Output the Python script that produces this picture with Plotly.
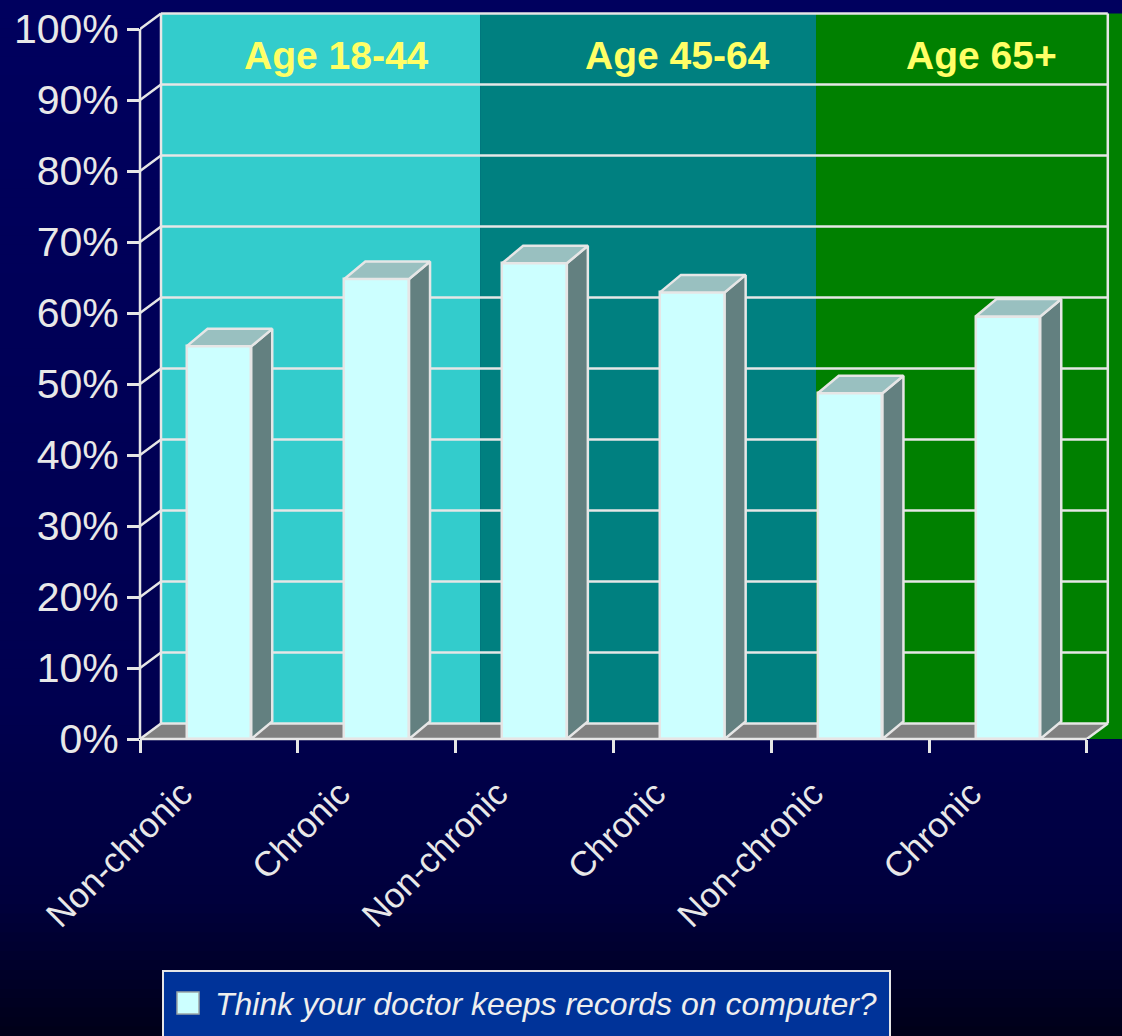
import plotly.graph_objects as go

# ---------------- data ----------------
categories = ["Non-chronic", "Chronic", "Non-chronic", "Chronic", "Non-chronic", "Chronic"]
age_groups = ["Age 18-44", "Age 45-64", "Age 65+"]
values = [55.3, 64.8, 67.0, 62.9, 48.7, 59.5]
series_name = "Think your doctor keeps records on computer?"
y_ticks = [0, 10, 20, 30, 40, 50, 60, 70, 80, 90, 100]
y_tick_labels = [f"{v}%" for v in y_ticks]

# ---------------- geometry / style ----------------
W, H = 1122, 1036
L, R, T, B = 140, 0, 12, 297
plot_w, plot_h = W - L - R, H - T - B
cat_px = 157.8            # pixels per category
px_per_pct = 7.1          # pixels per percent
x_min = -0.5
x_max = x_min + plot_w / cat_px
y_max = plot_h / px_per_pct

wall_dx = 21 / cat_px
wall_dy = 15.5 / px_per_pct
bar_dx = 21 / cat_px
bar_dy = 17.5 / px_per_pct
bar_w = 0.41
n = len(categories)
x_pos = list(range(n))
x_last = n - 0.5

band_colors = ["#33CCCC", "#008080", "#008000"]
band_edges = [x_min + wall_dx, 1.655, 3.784, x_max]
label_x = [0.748, 2.909, 4.83]
label_y = 96.3

front_col = "#CCFFFF"
side_col = "#638080"
top_col = "#99C0C0"
floor_col = "#808080"
edge_col = "#E6E6E6"
text_col = "#E8E8E8"
legend_bg = "#003399"
font_fam = "Liberation Sans, Arial, Helvetica, sans-serif"


def px_x(px):
    return (px - L) / plot_w


def px_y(py):
    return (H - B - py) / plot_h


fig = go.Figure()

# ---------------- background gradient (paper) ----------------
stops = [(0, (0, 0, 94)), (700, (0, 0, 80)), (900, (0, 0, 60)), (1036, (0, 0, 24))]


def grad(py):
    for (a, ca), (b, cb) in zip(stops[:-1], stops[1:]):
        if a <= py <= b:
            t = (py - a) / (b - a)
            return "rgb(%d,%d,%d)" % tuple(round(ca[k] + (cb[k] - ca[k]) * t) for k in range(3))
    return "rgb(0,0,24)"


shapes = []
N = 110
for i in range(N):
    py0 = H * i / N
    py1 = H * (i + 1) / N + 1
    shapes.append(dict(type="rect", xref="paper", yref="paper", layer="below",
                       x0=px_x(0), x1=px_x(W), y0=px_y(py1), y1=px_y(py0),
                       fillcolor=grad((py0 + py1) / 2), line=dict(width=0)))

# ---------------- coloured age bands ----------------
for c, x0, x1 in zip(band_colors, band_edges[:-1], band_edges[1:]):
    shapes.append(dict(type="rect", xref="x", yref="y", layer="below",
                       x0=x0, x1=x1, y0=0, y1=100 + wall_dy,
                       fillcolor=c, line=dict(width=0)))

# ---------------- floor ----------------
shapes.append(dict(type="path", xref="x", yref="y", layer="below",
                   path=f"M{x_min},0 L{x_last},0 L{x_last + wall_dx},{wall_dy} L{x_min + wall_dx},{wall_dy} Z",
                   fillcolor=floor_col, line=dict(width=0)))

# ---------------- back wall gridlines + left wall diagonals ----------------
for v in y_ticks:
    shapes.append(dict(type="line", xref="x", yref="y", layer="below",
                       x0=x_min + wall_dx, x1=x_last + wall_dx, y0=v + wall_dy, y1=v + wall_dy,
                       line=dict(color=edge_col, width=2.5)))
    shapes.append(dict(type="line", xref="x", yref="y", layer="below",
                       x0=x_min, x1=x_min + wall_dx, y0=v, y1=v + wall_dy,
                       line=dict(color=edge_col, width=2.5)))
# wall edges
for xx in (x_min + wall_dx, x_last + wall_dx):
    shapes.append(dict(type="line", xref="x", yref="y", layer="below",
                       x0=xx, x1=xx, y0=wall_dy, y1=100 + wall_dy,
                       line=dict(color=edge_col, width=2.5)))
shapes.append(dict(type="line", xref="x", yref="y", layer="below",
                   x0=x_last, x1=x_last + wall_dx, y0=0, y1=wall_dy,
                   line=dict(color=edge_col, width=2.5)))
# front axis lines (paper coords so they are not clipped)
shapes.append(dict(type="line", xref="paper", yref="paper", layer="above",
                   x0=0, x1=0, y0=0, y1=100 / y_max, line=dict(color=edge_col, width=2.5)))
shapes.append(dict(type="line", xref="paper", yref="paper", layer="above",
                   x0=0, x1=(x_last - x_min) / (x_max - x_min), y0=0, y1=0,
                   line=dict(color=edge_col, width=2.5)))

# ---------------- legend box (drawn like the original, running off the bottom) ----------------
shapes.append(dict(type="rect", xref="paper", yref="paper", layer="above",
                   x0=px_x(163), x1=px_x(890), y0=px_y(1050), y1=px_y(971),
                   fillcolor=legend_bg, line=dict(color=edge_col, width=2)))
shapes.append(dict(type="rect", xref="paper", yref="paper", layer="above",
                   x0=px_x(177), x1=px_x(199), y0=px_y(1014), y1=px_y(992),
                   fillcolor=front_col, line=dict(color="#9AA6A6", width=1.5)))

# ---------------- 3D bar faces ----------------
sx, sy, tx, ty = [], [], [], []
for xc, v in zip(x_pos, values):
    x0, x1 = xc - bar_w / 2, xc + bar_w / 2
    sx += [x1, x1 + bar_dx, x1 + bar_dx, x1, x1, None]
    sy += [0, bar_dy, v + bar_dy, v, 0, None]
    tx += [x0, x1, x1 + bar_dx, x0 + bar_dx, x0, None]
    ty += [v, v, v + bar_dy, v + bar_dy, v, None]

fig.add_trace(go.Scatter(x=sx, y=sy, mode="lines", fill="toself", fillcolor=side_col,
                         line=dict(color=edge_col, width=2.5), hoverinfo="skip",
                         showlegend=False, cliponaxis=False))
fig.add_trace(go.Scatter(x=tx, y=ty, mode="lines", fill="toself", fillcolor=top_col,
                         line=dict(color=edge_col, width=2.5), hoverinfo="skip",
                         showlegend=False, cliponaxis=False))
fig.add_trace(go.Bar(x=x_pos, y=values, width=bar_w, name=series_name,
                     marker=dict(color=front_col, line=dict(color=edge_col, width=2.5)),
                     showlegend=False, cliponaxis=False,
                     hovertemplate="%{y:.0f}%<extra></extra>"))

# ---------------- age labels + legend text ----------------
annotations = []
for txt, xx in zip(age_groups, label_x):
    annotations.append(dict(x=xx, y=label_y, xref="x", yref="y", text=txt, showarrow=False,
                            xanchor="center", yanchor="middle",
                            font=dict(family=font_fam, size=39, color="#FFFF66", weight="bold")))
annotations.append(dict(x=px_x(213), y=px_y(1004), xref="paper", yref="paper", text=series_name,
                        showarrow=False, xanchor="left", yanchor="middle",
                        font=dict(family=font_fam, size=32, style="italic", color="#EEEEEE")))

fig.update_layout(
    width=W, height=H,
    margin=dict(l=L, r=R, t=T, b=B, pad=0),
    paper_bgcolor="#000030",
    plot_bgcolor="rgba(0,0,0,0)",
    font=dict(family=font_fam, color=text_col),
    shapes=shapes,
    annotations=annotations,
    bargap=0,
    showlegend=False,
    xaxis=dict(range=[x_min, x_max], tickmode="array", tickvals=x_pos, ticktext=categories,
               tickangle=-45, tickfont=dict(size=35, color=text_col), ticks="",
               ticklabelshift=-37, ticklabelstandoff=26,
               showgrid=False, zeroline=False, showline=False, fixedrange=True,
               minor=dict(tickmode="linear", tick0=-0.5, dtick=1, ticks="outside", ticklen=13,
                          tickwidth=2.5, tickcolor=edge_col, showgrid=False)),
    yaxis=dict(range=[0, y_max], tickmode="array", tickvals=y_ticks, ticktext=y_tick_labels,
               ticks="outside", ticklen=12, tickwidth=2.5, tickcolor=edge_col,
               tickfont=dict(size=41, color=text_col),
               showgrid=False, zeroline=False, showline=False, fixedrange=True),
)

fig.write_html("out.html", config={"displayModeBar": False},
               post_script="document.body.style.margin='0';document.body.style.overflow='hidden';")
